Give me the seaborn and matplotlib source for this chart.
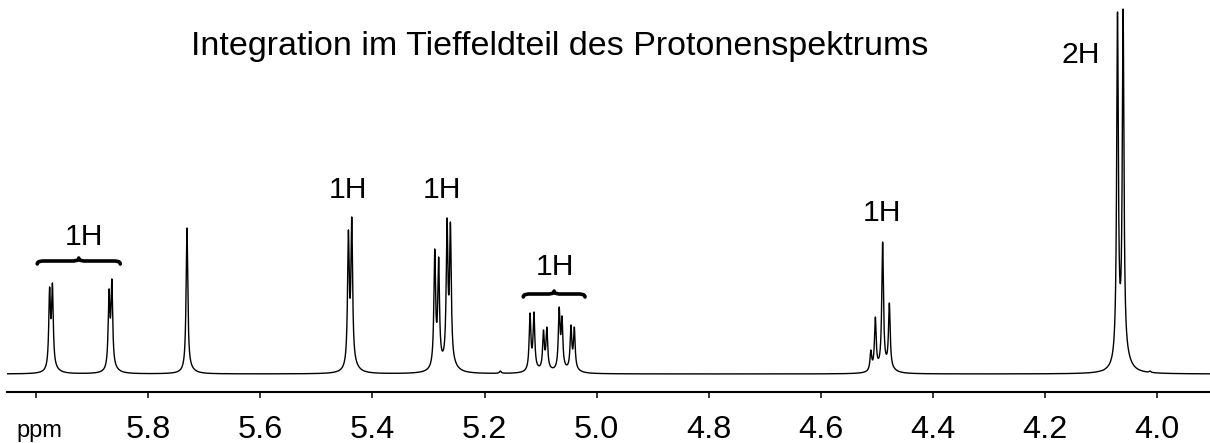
import numpy as np
import pandas as pd
import matplotlib
matplotlib.use("Agg")
import matplotlib.pyplot as plt
from matplotlib.path import Path
from matplotlib.patches import PathPatch
import seaborn as sns

# ---- data ----
peak_ppm = [5.976, 5.971, 5.870, 5.865, 5.731, 5.443, 5.437,
            5.289, 5.282, 5.267, 5.261,
            5.119, 5.112, 5.095, 5.089, 5.067, 5.062, 5.046, 5.040,
            4.511, 4.503, 4.490, 4.478, 4.071, 4.061,
            5.172, 4.096, 4.013]
peak_height = [87, 91, 85, 95, 146, 144, 157,
               125, 117, 156, 152,
               61, 62, 44, 47, 67, 58, 49, 47,
               24, 57, 132, 71, 362, 365,
               3, 4, 3]

label_text = ["1H", "1H", "1H", "1H", "1H", "2H"]
label_ppm = [5.914, 5.443, 5.276, 5.074, 4.491, 4.137]
label_y = [129, 176.5, 176.5, 99, 153.3, 310.7]

brace_left = [5.998, 5.131]
brace_right = [5.850, 5.021]
brace_y = [110, 77]

tick_values = [6.0, 5.8, 5.6, 5.4, 5.2, 5.0, 4.8, 4.6, 4.4, 4.2, 4.0]
tick_labels = ["", "5.8", "5.6", "5.4", "5.2", "5.0", "4.8", "4.6", "4.4", "4.2", "4.0"]

title = "Integration im Tieffeldteil des Protonenspektrums"

# ---- line shape (Lorentzian peaks with a slight upfield skirt) ----
PX = 1 / 560.5           # ppm per pixel
G_NARROW = 1.0 * PX
G_BROAD = 6 * PX
SHIFT_BROAD = 2.5 * PX
FRAC_BROAD = 0.025


def profile(x, center):
    narrow = 1.0 / (1.0 + ((x - center) / G_NARROW) ** 2)
    broad = FRAC_BROAD / (1.0 + ((x - (center - SHIFT_BROAD)) / G_BROAD) ** 2)
    return narrow + broad


pos = np.array(peak_ppm)
hts = np.array(peak_height, dtype=float)
M = np.array([[profile(pi, pj) for pj in pos] for pi in pos])
amps = np.linalg.solve(M, hts)

x_lo, x_hi = 3.906, 6.052
ppm = np.linspace(x_hi, x_lo, 40000)
intensity = np.zeros_like(ppm)
for a, c in zip(amps, pos):
    intensity += a * profile(ppm, c)

df = pd.DataFrame({"ppm": ppm, "intensity": intensity})

# ---- plot ----
sns.set_style("white")
plt.rcParams["font.family"] = ["Liberation Sans", "DejaVu Sans"]
plt.rcParams["text.color"] = "black"
plt.rcParams["xtick.color"] = "black"

fig = plt.figure(figsize=(12.1, 4.43), dpi=100)
ax = fig.add_axes([7 / 1210, 51 / 443, 1 - 7 / 1210, 392 / 443])

sns.lineplot(data=df, x="ppm", y="intensity", ax=ax, color="black",
             linewidth=1.0, sort=False, estimator=None)

ax.set_xlim(x_hi, x_lo)
ax.set_ylim(-18, 374)
for side in ["top", "left", "right"]:
    ax.spines[side].set_visible(False)
ax.spines["bottom"].set_linewidth(1.5)
ax.spines["bottom"].set_color("black")
ax.set_yticks([])
ax.set_xticks(tick_values)
ax.set_xticklabels(tick_labels)
ax.tick_params(axis="x", direction="out", length=4, width=1.1, pad=12.5,
               labelsize=23.4, colors="black", bottom=True)
ax.set_xlabel("")
ax.set_ylabel("")

ax.annotate("ppm", xy=(6.0, 0), xycoords=("data", "axes fraction"),
            xytext=(2.2, -32.4), textcoords="offset points",
            ha="center", va="baseline", fontsize=17, color="black")

for t, xp, yp in zip(label_text, label_ppm, label_y):
    ax.text(xp, yp, t, ha="center", va="baseline", fontsize=21.7,
            color="black")

fig.text(560 / 1210, 1 - 55 / 443, title, ha="center", va="baseline",
         fontsize=24.5, color="black")

# curly braces
H = 6.0
Q = 8 * PX
for x0, x1, yb in zip(brace_left, brace_right, brace_y):
    s = np.sign(x1 - x0)
    xm = 0.5 * (x0 + x1)
    ym = yb + H / 2
    verts = [(x0, yb), (x0, ym), (x0 + s * Q / 2, ym), (x0 + s * Q, ym),
             (xm - s * Q, ym),
             (xm - s * Q / 2, ym), (xm, ym), (xm, yb + H),
             (xm, ym), (xm + s * Q / 2, ym), (xm + s * Q, ym),
             (x1 - s * Q, ym),
             (x1 - s * Q / 2, ym), (x1, ym), (x1, yb)]
    codes = [Path.MOVETO, Path.CURVE4, Path.CURVE4, Path.CURVE4,
             Path.LINETO,
             Path.CURVE4, Path.CURVE4, Path.CURVE4,
             Path.CURVE4, Path.CURVE4, Path.CURVE4,
             Path.LINETO,
             Path.CURVE4, Path.CURVE4, Path.CURVE4]
    ax.add_patch(PathPatch(Path(verts, codes), facecolor="none",
                           edgecolor="black", linewidth=2.6,
                           capstyle="round", joinstyle="round"))

fig.savefig("out.png", dpi=100)
